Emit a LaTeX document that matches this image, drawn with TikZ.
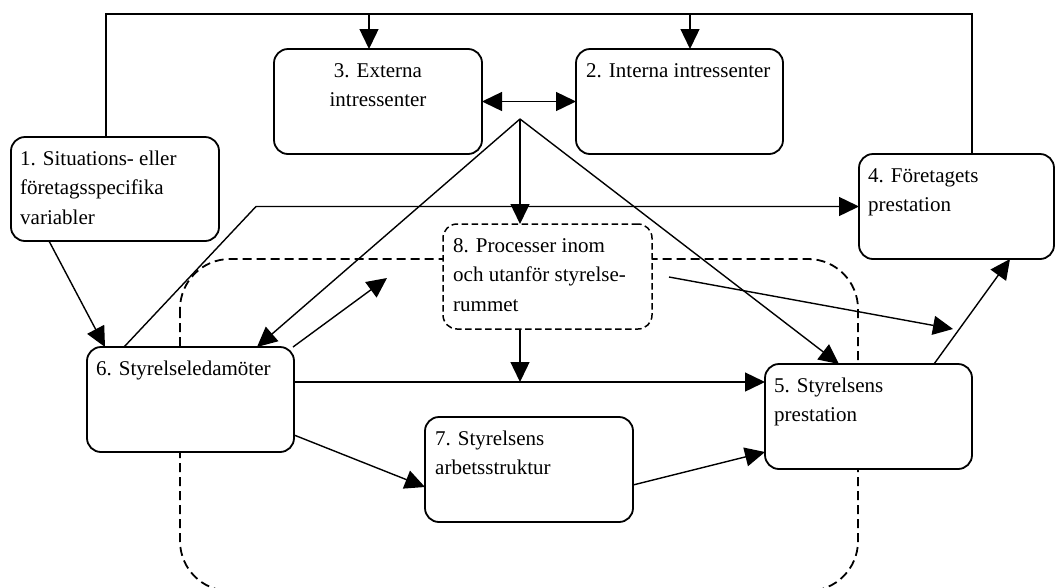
\documentclass[tikz,border=0pt]{standalone}
\usepackage{fontspec}
\setmainfont{Liberation Serif}
\usetikzlibrary{arrows.meta,calc}
\begin{document}
\begin{tikzpicture}[x=1pt,y=-1pt,
  box/.style={draw, line width=1.8pt, rounded corners=14pt, fill=white,
    minimum width=207pt, minimum height=105pt, inner sep=0pt, outer sep=0pt},
  procbox/.style={box, dash pattern=on 6.5pt off 3.5pt, line width=1.5pt},
  txt/.style={anchor=north west, inner sep=0pt, align=left,
    font=\fontsize{21}{29.5}\selectfont},
  link/.style={line width=1.4pt},
  arr/.style={link, -{Triangle[length=20pt,width=19pt]}},
  darr/.style={link, {Triangle[length=20pt,width=19pt]}-{Triangle[length=20pt,width=19pt]}},
  room/.style={line width=1.8pt, dash pattern=on 9pt off 5pt, rounded corners=50pt}]
\useasboundingbox (0,0) rectangle (1056,587);
\clip (0,0) rectangle (1056,587);
\fill[white] (0,0) rectangle (1056,587);

% the board room
\draw[room] (180,259) rectangle (858,591);

% boxes
\node[box, minimum width=208pt, minimum height=104pt] (b1) at (115,189) {};
\node[box, minimum width=208pt] (b3) at (378,101.5) {};
\node[box] (b2) at (679.5,101.5) {};
\node[box, minimum width=195pt] (b4) at (956.5,206.5) {};
\node[procbox, minimum width=209pt] (b8) at (547.5,276.5) {};
\node[box] (b6) at (190.5,399.5) {};
\node[box] (b5) at (868.5,416.5) {};
\node[box, minimum width=208pt] (b7) at (529,469.5) {};

% labels
\node[txt] (t1) at ($(b1.north west)+(9,7.35)$)
  {\strut 1. Situations- eller\\\strut företagsspecifika\\\strut variabler};
\node[txt, anchor=north, align=center] (t3) at ($(b3.north)+(0,7.35)$)
  {\strut 3. Externa\\\strut intressenter};
\node[txt] (t2) at ($(b2.north west)+(10,7.35)$) {\strut 2. Interna intressenter};
\node[txt] (t4) at ($(b4.north west)+(9,7.35)$) {\strut 4. Företagets\\\strut prestation};
\node[txt] (t8) at ($(b8.north west)+(10,7.35)$)
  {\strut 8. Processer inom\\\strut och utanför styrelse-\\\strut rummet};
\node[txt] (t6) at ($(b6.north west)+(9,7.35)$) {\strut 6. Styrelseledamöter};
\node[txt] (t5) at ($(b5.north west)+(9,7.35)$) {\strut 5. Styrelsens\\\strut prestation};
\node[txt] (t7) at ($(b7.north west)+(10,7.35)$) {\strut 7. Styrelsens\\\strut arbetsstruktur};

% feedback loop over the top
\coordinate (tl) at (106,14);
\coordinate (tr) at (972,14);
\coordinate (d3) at (369,14);
\coordinate (d2) at (690,14);
\draw[link] (b1.north -| tl) -- (tl) -- (tr) -- (b4.north -| tr);
\draw[arr] (d3) -- (d3 |- b3.north);
\draw[arr] (d2) -- (d2 |- b2.north);

% stakeholders
\draw[darr] (b3.east) -- (b2.west);
\coordinate (hub) at (520,119);
\draw[arr] (hub) -- (hub |- b8.north);
\draw[arr] (hub) -- ($(b6.north)+(66.5,0)$);
\draw[arr] (hub) -- ($(b5.north)+(-29.5,0)$);

% board members
\draw[arr] ($(b1.south)+(-66,0)$) -- ($(b6.north)+(-85.5,0)$);
\coordinate (bend) at (256,207);
\draw[arr] ($(b6.north)+(-66.5,0)$) -- (bend |- b4.west) -- (b4.west);
\coordinate (f1) at (387,278);
\draw[arr] ($(b6.north east)+(-1,0)$) -- (f1);
\coordinate (h5) at ($(b5.west)+(0,-34.5)$);
\draw[arr] (b6.east |- h5) -- (h5);
\draw[arr] (hub |- b8.south) -- (hub |- h5);
\draw[arr] ($(b6.east)+(0,35.5)$) -- ($(b7.west)+(0,17.5)$);
\draw[arr] ($(b7.east)+(0,15.5)$) -- ($(b5.west)+(0,35.5)$);

% performance
\draw[arr] ($(b5.north)+(65.5,0)$) -- ($(b4.south)+(53.5,0)$);
\coordinate (f2) at (669,277);
\coordinate (f3) at (953,329);
\draw[arr] (f2) -- (f3);
\end{tikzpicture}
\end{document}
